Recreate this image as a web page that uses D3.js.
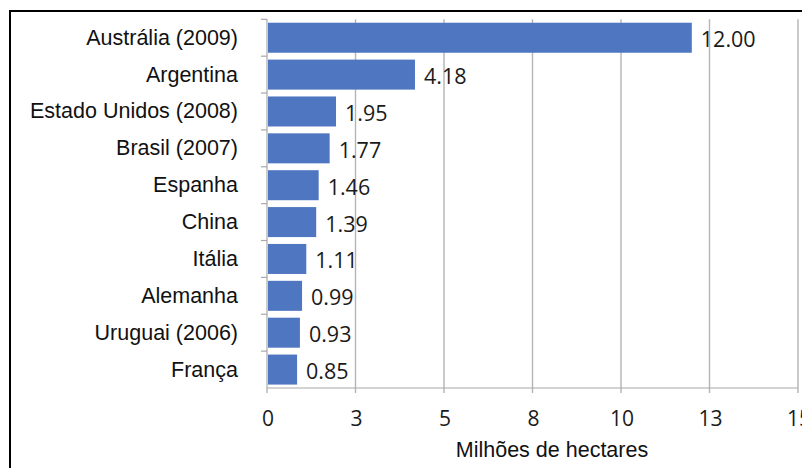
<!DOCTYPE html>
<html><head><meta charset="utf-8">
<script src="https://cdn.jsdelivr.net/npm/d3@7"></script>
<style>html,body{margin:0;padding:0;background:#fff;overflow:hidden}</style>
</head><body>
<svg id="c" width="802" height="468"></svg>
<script>
const categories = ["Austrália (2009)","Argentina","Estado Unidos (2008)","Brasil (2007)","Espanha","China","Itália","Alemanha","Uruguai (2006)","França"];
const values = [12.00,4.18,1.95,1.77,1.46,1.39,1.11,0.99,0.93,0.85];
const valueLabels = ["12.00","4.18","1.95","1.77","1.46","1.39","1.11","0.99","0.93","0.85"];
const tickValues = [0,2.5,5,7.5,10,12.5,15];
const tickLabels = ["0","3","5","8","10","13","15"];
const axisTitle = "Milhões de hectares";

const svg = d3.select("#c");
// outer frame (only top/left visible; image cropped)
svg.append("rect").attr("x",10).attr("y",11).attr("width",900).attr("height",600)
  .attr("fill","none").attr("stroke","#000").attr("stroke-width",2);

const x0 = 267, x1 = 798, yTop = 19.3, yBot = 388;
const x = d3.scaleLinear().domain([0,15]).range([x0,x1]);
const pi = 0.186;
const y = d3.scaleBand().domain(categories).range([yTop,yBot]).paddingInner(pi).paddingOuter(pi/2);
const step = y.step();

// gridlines
svg.append("g").selectAll("line").data(tickValues.slice(1)).join("line")
  .attr("x1",d=>x(d)).attr("x2",d=>x(d)).attr("y1",yTop).attr("y2",yBot+5)
  .attr("stroke","#b4b4b4").attr("stroke-width",1.4);

// bottom axis line
svg.append("line").attr("x1",x0).attr("x2",x1).attr("y1",yBot).attr("y2",yBot)
  .attr("stroke","#a8a8a8").attr("stroke-width",1.2);
svg.append("line").attr("x1",x0).attr("x2",x0).attr("y1",yBot).attr("y2",yBot+5)
  .attr("stroke","#a8a8a8").attr("stroke-width",1.2);
// left axis line
svg.append("line").attr("x1",x0).attr("x2",x0).attr("y1",yTop).attr("y2",yBot)
  .attr("stroke","#a8a8a8").attr("stroke-width",1.2);
// y ticks at category boundaries
const bounds = categories.map(c => y(c) - step*pi/2);
svg.append("g").selectAll("line").data(bounds).join("line")
  .attr("x1",x0-6).attr("x2",x0).attr("y1",d=>d).attr("y2",d=>d)
  .attr("stroke","#a8a8a8").attr("stroke-width",1.2);

// bars
svg.append("g").selectAll("rect").data(values).join("rect")
  .attr("x",x0+1).attr("y",(d,i)=>y(categories[i]))
  .attr("width",d=>x(d)-x0-1).attr("height",y.bandwidth())
  .attr("fill","#4f76c0");

// value labels
svg.append("g").selectAll("text").data(values).join("text")
  .attr("x",d=>x(d)+9).attr("y",(d,i)=>y(categories[i])+y.bandwidth()/2+1)
  .attr("dominant-baseline","central")
  .attr("font-family","'Open Sans', sans-serif").attr("font-size",21.5).attr("fill","#1a1a1a")
  .text((d,i)=>valueLabels[i]);

// category labels
svg.append("g").selectAll("text").data(categories).join("text")
  .attr("x",238).attr("y",d=>y(d)+y.bandwidth()/2)
  .attr("dominant-baseline","central").attr("text-anchor","end")
  .attr("font-family","'Liberation Sans', Arial, sans-serif").attr("font-size",21.5).attr("fill","#111")
  .text(d=>d);

// x tick labels
svg.append("g").selectAll("text").data(tickValues).join("text")
  .attr("x",d=>x(d)+1).attr("y",418)
  .attr("dominant-baseline","central").attr("text-anchor","middle")
  .attr("font-family","'Open Sans', sans-serif").attr("font-size",21).attr("fill","#1a1a1a")
  .text((d,i)=>tickLabels[i]);

// axis title
svg.append("text").attr("x",552).attr("y",450).attr("text-anchor","middle")
  .attr("dominant-baseline","central")
  .attr("font-family","'Liberation Sans', Arial, sans-serif").attr("font-size",21.5).attr("fill","#111")
  .text(axisTitle);
</script>
</body></html>
